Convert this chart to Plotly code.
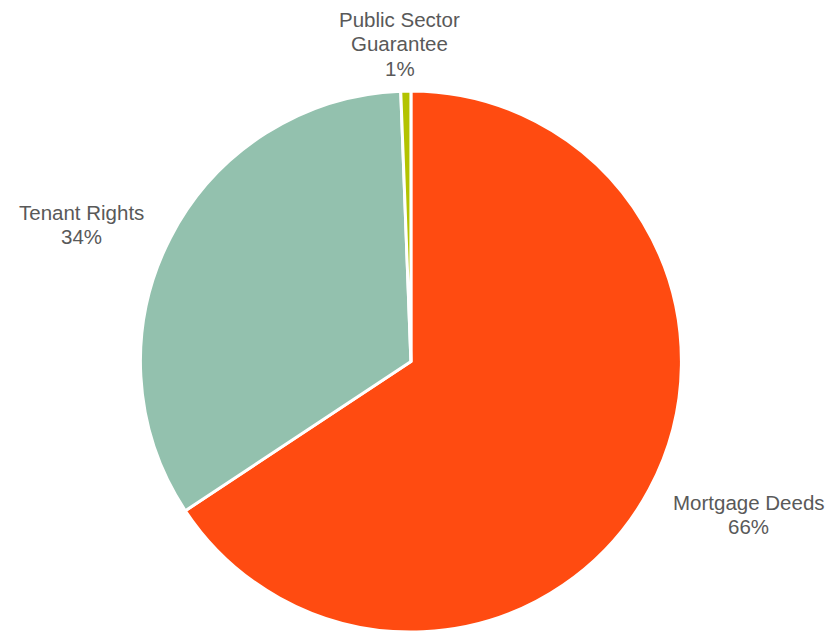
import plotly.graph_objects as go

labels = ["Mortgage Deeds", "Tenant Rights", "Public Sector Guarantee"]
label_lines = [["Mortgage Deeds"], ["Tenant Rights"], ["Public Sector", "Guarantee"]]
values = [65.7, 33.7, 0.6]
colors = ["#FF4B11", "#93C1AE", "#B3C300"]
# position (paper coords) of each label's first line
label_pos = [(0.901, 1 - 502 / 632), (0.0975, 1 - 212 / 632), (0.481, 1 - 19 / 632)]
line_step = 24.5 / 632

fig = go.Figure(go.Pie(
    labels=labels, values=values, sort=False, direction="clockwise", rotation=0,
    marker=dict(colors=colors, line=dict(color="white", width=3)),
    textinfo="none", hoverinfo="label+percent", showlegend=False,
    domain=dict(x=[0.164, 0.825], y=[0.0, 0.856]),
))

total = sum(values)
for lines, v, (x, y) in zip(label_lines, values, label_pos):
    all_lines = lines + [f"{round(v / total * 100)}%"]
    for i, ln in enumerate(all_lines):
        fig.add_annotation(x=x, y=y - i * line_step, xref="paper", yref="paper",
                           text=ln, showarrow=False, xanchor="center", yanchor="middle",
                           font=dict(family="Liberation Sans, Arial", size=20.5, color="#595959"))

fig.update_layout(width=831, height=632, margin=dict(l=0, r=0, t=0, b=0),
                  paper_bgcolor="white", plot_bgcolor="white")
fig.write_html("out.html")
